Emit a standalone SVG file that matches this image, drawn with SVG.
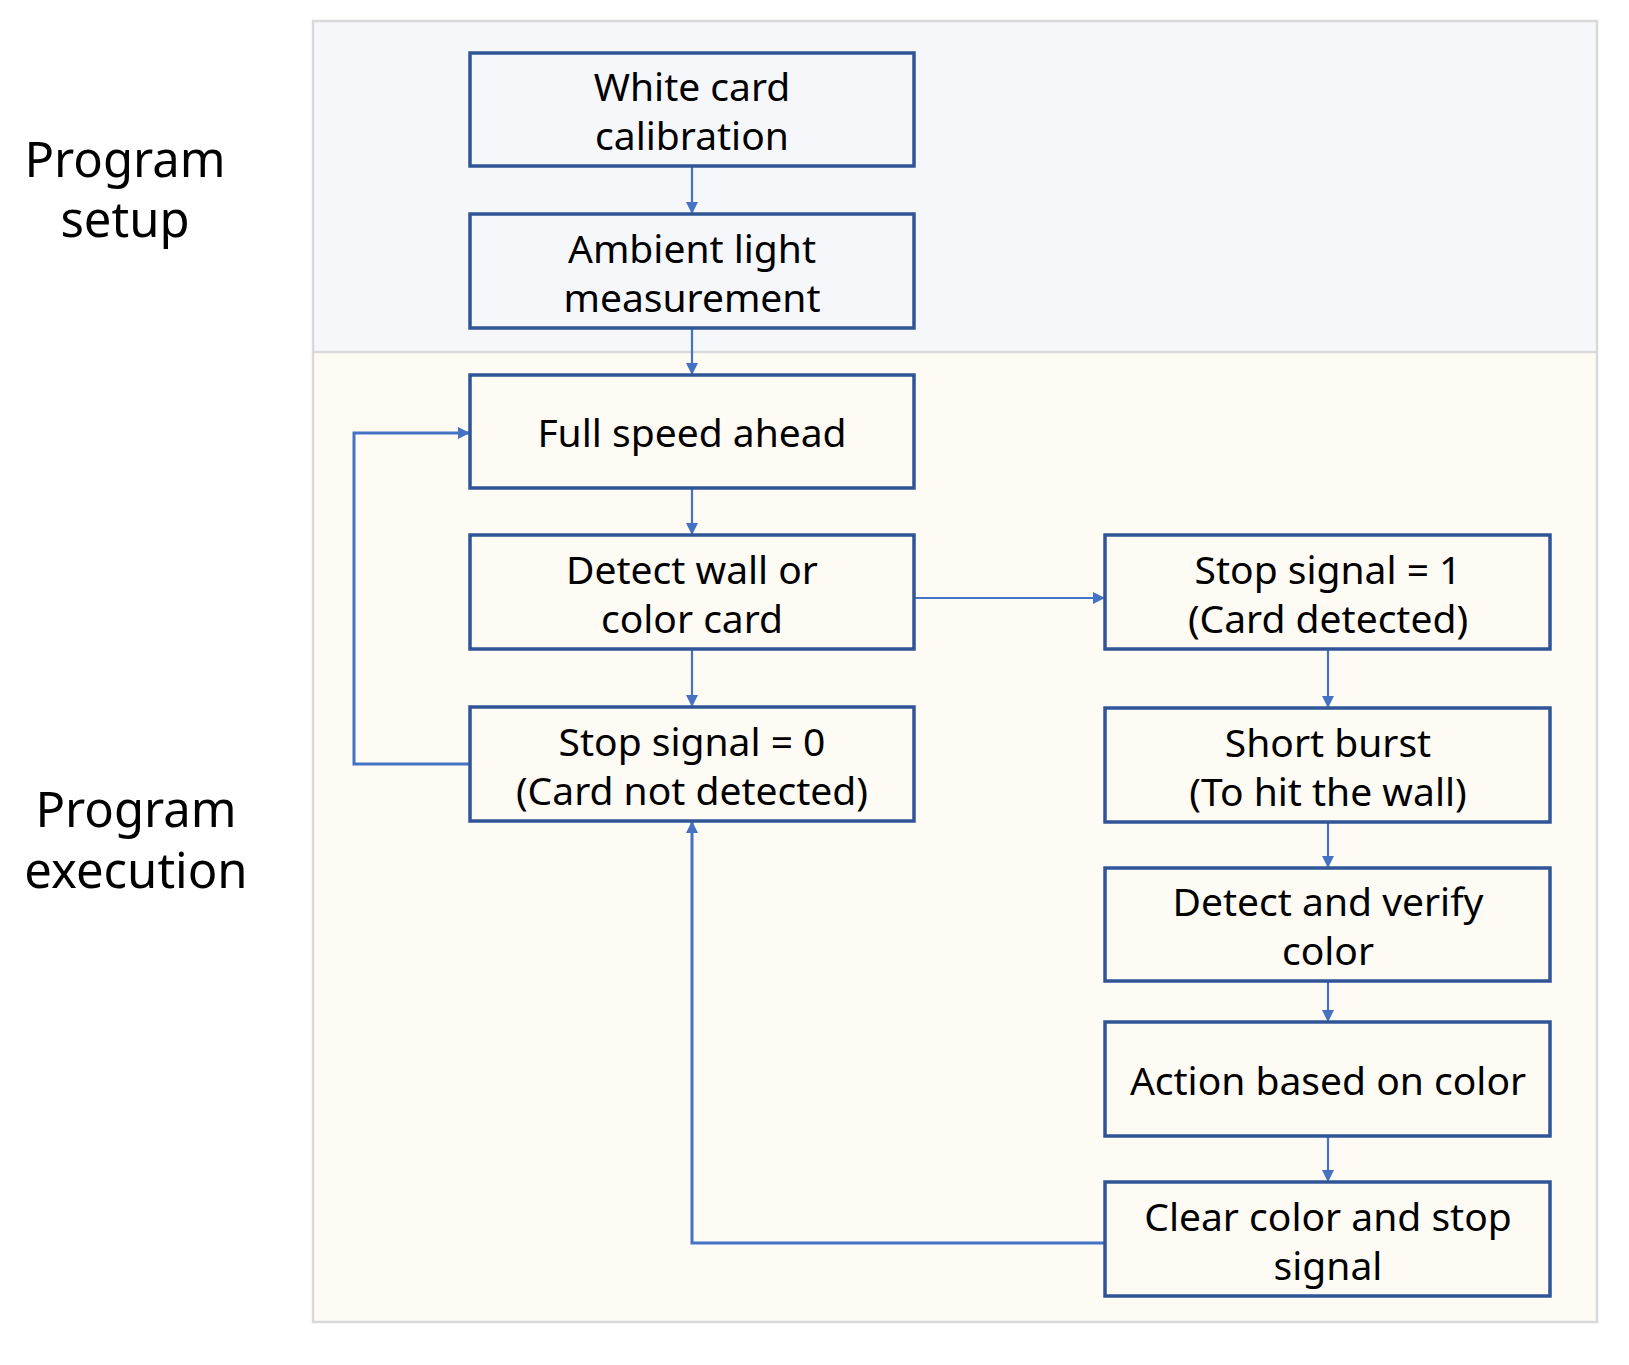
<svg xmlns="http://www.w3.org/2000/svg" width="1629" height="1365" viewBox="0 0 1629 1365">
<style>
.box{fill:none;stroke:#2F5597;stroke-width:3.5}
.t{font-family:"Noto Sans","Liberation Sans",sans-serif;font-size:39px;fill:#000;text-anchor:middle;dominant-baseline:central}
.lbl{font-family:"Noto Sans","Liberation Sans",sans-serif;font-size:49px;fill:#000;text-anchor:middle;dominant-baseline:central}
.c{fill:none;stroke:#4472C4;stroke-width:2.2}
.cl{fill:none;stroke:#4472C4;stroke-width:3}
</style>
<defs>
<marker id="ah" viewBox="0 0 10 10" refX="10" refY="5" markerWidth="12" markerHeight="12" markerUnits="userSpaceOnUse" orient="auto">
<path d="M0,0 L10,5 L0,10 z" fill="#4472C4"/>
</marker>
</defs>
<rect width="1629" height="1365" fill="#fff"/>
<g id="bands">
<rect x="313" y="21" width="1284" height="331" fill="#F5F7FA"/>
<rect x="313" y="352" width="1284" height="970" fill="#FDFBF4"/>
<rect x="313" y="21" width="1284" height="1301" fill="none" stroke="#D9D9D9" stroke-width="2.5"/>
<line x1="313" y1="352" x2="1597" y2="352" stroke="#D9D9D9" stroke-width="2.5"/>
</g>
<g id="labels">
<text class="lbl" x="125" y="158">Program</text>
<text class="lbl" x="125" y="218">setup</text>
<text class="lbl" x="136" y="808">Program</text>
<text class="lbl" x="136" y="869">execution</text>
</g>
<g id="connectors">
<line class="c" x1="692" y1="166" x2="692" y2="214" marker-end="url(#ah)"/>
<line class="c" x1="692" y1="328" x2="692" y2="375" marker-end="url(#ah)"/>
<line class="c" x1="692" y1="488" x2="692" y2="535" marker-end="url(#ah)"/>
<line class="c" x1="692" y1="649" x2="692" y2="707" marker-end="url(#ah)"/>
<line class="c" x1="914" y1="598" x2="1105" y2="598" marker-end="url(#ah)"/>
<line class="c" x1="1328" y1="649" x2="1328" y2="708" marker-end="url(#ah)"/>
<line class="c" x1="1328" y1="822" x2="1328" y2="868" marker-end="url(#ah)"/>
<line class="c" x1="1328" y1="981" x2="1328" y2="1022" marker-end="url(#ah)"/>
<line class="c" x1="1328" y1="1136" x2="1328" y2="1182" marker-end="url(#ah)"/>
<polyline class="cl" points="470,764 354,764 354,433 470,433" marker-end="url(#ah)"/>
<polyline class="cl" points="1105,1243 692,1243 692,821" marker-end="url(#ah)"/>
</g>
<g id="n1"><rect class="box" x="470" y="53" width="444" height="113"/><text class="t" x="692" y="85">White card</text><text class="t" x="692" y="134">calibration</text></g>
<g id="n2"><rect class="box" x="470" y="214" width="444" height="114"/><text class="t" x="692" y="247">Ambient light</text><text class="t" x="692" y="296">measurement</text></g>
<g id="n3"><rect class="box" x="470" y="375" width="444" height="113"/><text class="t" x="692" y="431">Full speed ahead</text></g>
<g id="n4"><rect class="box" x="470" y="535" width="444" height="114"/><text class="t" x="692" y="568">Detect wall or</text><text class="t" x="692" y="617">color card</text></g>
<g id="n5"><rect class="box" x="470" y="707" width="444" height="114"/><text class="t" x="692" y="740">Stop signal = 0</text><text class="t" x="692" y="789">(Card not detected)</text></g>
<g id="r1"><rect class="box" x="1105" y="535" width="445" height="114"/><text class="t" x="1328" y="568">Stop signal = 1</text><text class="t" x="1328" y="617">(Card detected)</text></g>
<g id="r2"><rect class="box" x="1105" y="708" width="445" height="114"/><text class="t" x="1328" y="741">Short burst</text><text class="t" x="1328" y="790">(To hit the wall)</text></g>
<g id="r3"><rect class="box" x="1105" y="868" width="445" height="113"/><text class="t" x="1328" y="900">Detect and verify</text><text class="t" x="1328" y="949">color</text></g>
<g id="r4"><rect class="box" x="1105" y="1022" width="445" height="114"/><text class="t" x="1328" y="1079">Action based on color</text></g>
<g id="r5"><rect class="box" x="1105" y="1182" width="445" height="114"/><text class="t" x="1328" y="1215">Clear color and stop</text><text class="t" x="1328" y="1264">signal</text></g>
</svg>
